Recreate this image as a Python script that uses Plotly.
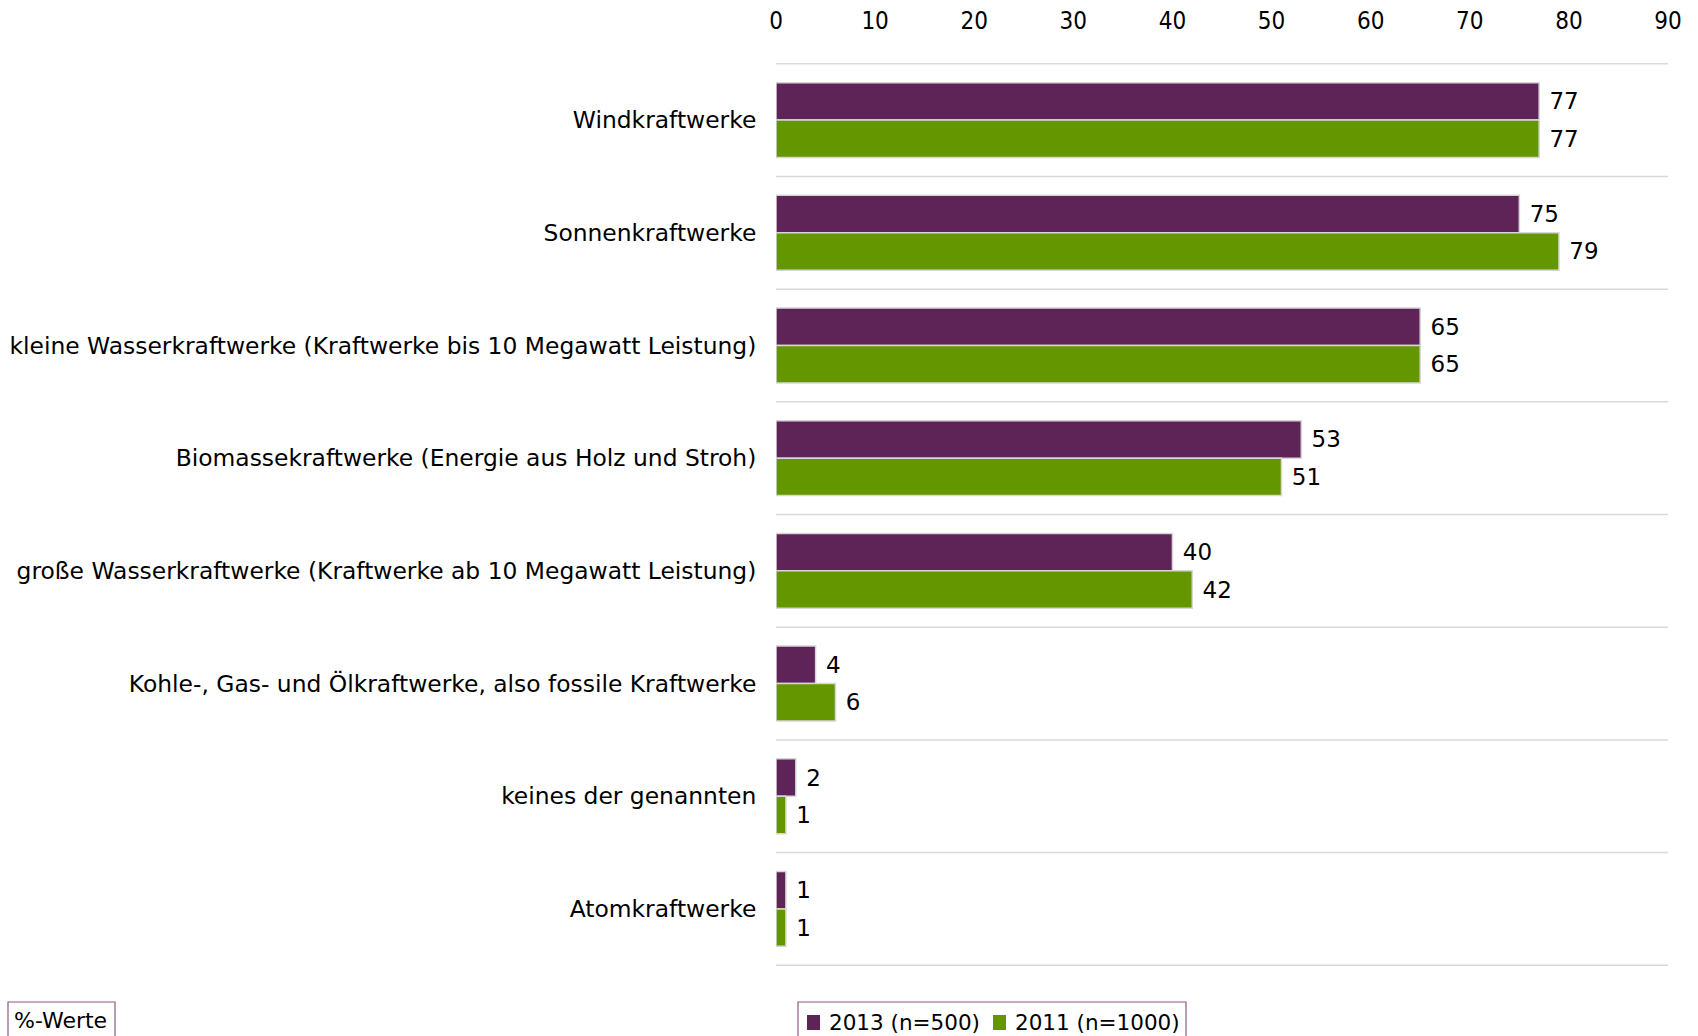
import plotly.graph_objects as go

categories = [
    "Windkraftwerke",
    "Sonnenkraftwerke",
    "kleine Wasserkraftwerke (Kraftwerke bis 10 Megawatt Leistung)",
    "Biomassekraftwerke (Energie aus Holz und Stroh)",
    "große Wasserkraftwerke (Kraftwerke ab 10 Megawatt Leistung)",
    "Kohle-, Gas- und Ölkraftwerke, also fossile Kraftwerke",
    "keines der genannten",
    "Atomkraftwerke",
]
values_2013 = [77, 75, 65, 53, 40, 4, 2, 1]
values_2011 = [77, 79, 65, 51, 42, 6, 1, 1]
series_names = ["2013 (n=500)", "2011 (n=1000)"]
tick_values = [0, 10, 20, 30, 40, 50, 60, 70, 80, 90]

PURPLE = "#5e2458"
GREEN = "#649600"
BOXCOL = "#8a5a88"
FONT = "DejaVu Sans"

W, H = 1698, 1036
ML, MR, MT, MB = 776, 30, 63, 70
PW, PH = W - ML - MR, H - MT - MB


def px_x(px):
    return (px - ML) / PW


def px_y(py):
    return (H - MB - py) / PH


fig = go.Figure()
for name, vals, col in [(series_names[0], values_2013, PURPLE), (series_names[1], values_2011, GREEN)]:
    fig.add_trace(go.Bar(
        y=categories, x=vals, name=name, orientation="h",
        marker=dict(color=col, line=dict(color="#d6d6d6", width=1.5)),
        text=[" " + str(v) for v in vals], textposition="outside",
        textfont=dict(family=FONT, size=23, color="#000000"),
        cliponaxis=False, showlegend=False,
    ))

shapes = []
for i in range(len(categories) + 1):
    shapes.append(dict(type="line", xref="paper", x0=0, x1=1, yref="y",
                       y0=i - 0.5, y1=i - 0.5,
                       line=dict(color="#d9d9d9", width=1.5), layer="below"))

# legend box (manual)
shapes.append(dict(type="rect", xref="paper", yref="paper",
                   x0=px_x(798), x1=px_x(1186), y0=px_y(1002), y1=px_y(1045),
                   line=dict(color=BOXCOL, width=1.2), fillcolor="white"))
shapes.append(dict(type="rect", xref="paper", yref="paper",
                   x0=px_x(807), x1=px_x(820), y0=px_y(1015), y1=px_y(1030),
                   line=dict(width=0), fillcolor=PURPLE))
shapes.append(dict(type="rect", xref="paper", yref="paper",
                   x0=px_x(993), x1=px_x(1006), y0=px_y(1015), y1=px_y(1030),
                   line=dict(width=0), fillcolor=GREEN))
# %-Werte box
shapes.append(dict(type="rect", xref="paper", yref="paper",
                   x0=px_x(8), x1=px_x(115), y0=px_y(1002), y1=px_y(1045),
                   line=dict(color=BOXCOL, width=1.2), fillcolor="white"))

annotations = [
    dict(text=series_names[0], xref="paper", yref="paper", x=px_x(827), xanchor="left",
         y=px_y(1022), yanchor="middle", showarrow=False,
         font=dict(family=FONT, size=21.5, color="#000000")),
    dict(text=series_names[1], xref="paper", yref="paper", x=px_x(1013), xanchor="left",
         y=px_y(1022), yanchor="middle", showarrow=False,
         font=dict(family=FONT, size=21.5, color="#000000")),
    dict(text="%-Werte", xref="paper", yref="paper", x=px_x(12), xanchor="left",
         y=px_y(1020), yanchor="middle", showarrow=False,
         font=dict(family=FONT, size=22, color="#000000")),
]

fig.update_layout(
    width=W, height=H,
    margin=dict(l=ML, r=MR, t=MT, b=MB, autoexpand=False),
    paper_bgcolor="white", plot_bgcolor="white",
    barmode="group", bargap=0.336, bargroupgap=0,
    font=dict(family=FONT, size=23, color="#000000"),
    shapes=shapes, annotations=annotations, showlegend=False,
    xaxis=dict(side="top", range=[0, 90], tickvals=tick_values,
               showgrid=False, zeroline=False, showline=False,
               tickfont=dict(family="Liberation Sans Narrow, DejaVu Sans Condensed, Liberation Sans", size=24, color="#000000"),
               ticks="outside", ticklen=23, tickcolor="rgba(0,0,0,0)"),
    yaxis=dict(autorange="reversed", showgrid=False, zeroline=False, showline=False,
               ticks="outside", ticklen=14, tickcolor="rgba(0,0,0,0)",
               tickfont=dict(family=FONT, size=23.4, color="#000000")),
)

fig.write_html("out.html")
